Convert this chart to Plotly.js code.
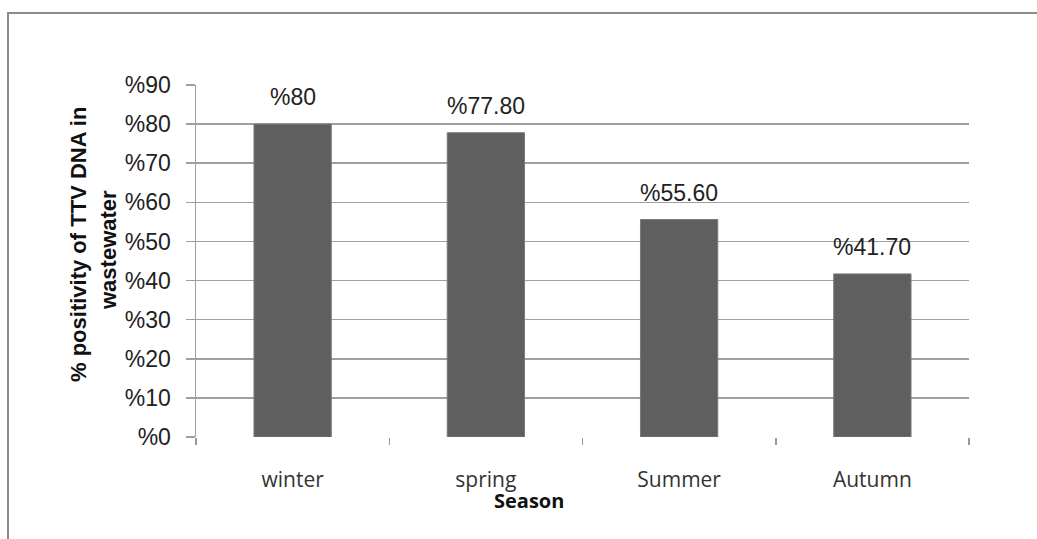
<!DOCTYPE html>
<html>
<head>
<meta charset="utf-8">
<script src="https://cdn.plot.ly/plotly-3.0.1.min.js"></script>
<style>
  html, body { margin: 0; padding: 0; background: #fff; }
  #chart { width: 1037px; height: 539px; }
</style>
</head>
<body>
<div id="chart"></div>
<script>
const seasons = ["winter", "spring", "Summer", "Autumn"];
const positivity = [80, 77.8, 55.6, 41.7];
const valueLabels = ["%80", "%77.80", "%55.60", "%41.70"];
const yTickValues = [0, 10, 20, 30, 40, 50, 60, 70, 80, 90];
const yTickLabels = ["%0", "%10", "%20", "%30", "%40", "%50", "%60", "%70", "%80", "%90"];
const yTitleLines = ["% positivity of TTV DNA in", "wastewater"];
const xTitle = "Season";

const trace = {
  type: "bar",
  x: seasons,
  y: positivity,
  marker: { color: "#5f5f5f", line: { color: "#7a7a7a", width: 1 } },
  hoverinfo: "x+y"
};

const annotations = seasons.map((s, i) => ({
  x: s, y: positivity[i], xref: "x", yref: "y",
  text: valueLabels[i], showarrow: false,
  yanchor: "bottom", yshift: 12,
  font: { family: "Liberation Sans, Arial, sans-serif", size: 23, color: "#222" }
}));

// y-axis title, two rotated lines
annotations.push({
  xref: "paper", yref: "paper", x: (78 - 196) / 773, y: (437 - 245) / 352,
  text: "<b>" + yTitleLines[0] + "</b>", showarrow: false, textangle: -90,
  xanchor: "center", yanchor: "middle",
  font: { family: "Liberation Sans, Arial, sans-serif", size: 22, color: "#111" }
});
annotations.push({
  xref: "paper", yref: "paper", x: (108 - 196) / 773, y: (437 - 250) / 352,
  text: "<b>" + yTitleLines[1] + "</b>", showarrow: false, textangle: -90,
  xanchor: "center", yanchor: "middle",
  font: { family: "Liberation Sans, Arial, sans-serif", size: 22, color: "#111" }
});

annotations.push({
  xref: "paper", yref: "paper", x: (529 - 196) / 773, y: (437 - 500) / 352,
  text: "<b>" + xTitle + "</b>", showarrow: false, xanchor: "center", yanchor: "middle",
  font: { family: "Open Sans, sans-serif", size: 20, color: "#111" }
});

const layout = {
  width: 1037, height: 539,
  margin: { l: 196, r: 68, t: 85, b: 102 },
  paper_bgcolor: "#fff", plot_bgcolor: "#fff",
  showlegend: false,
  bargap: 0.6,
  xaxis: {
    type: "category",
    tickson: "boundaries",
    ticks: "outside", ticklen: 7, tickcolor: "#999", tickwidth: 1.5,
    showgrid: false, showline: false, zeroline: false,
    ticklabelstandoff: 28,
    tickfont: { family: "Open Sans, sans-serif", size: 21, color: "#333" }
  },
  yaxis: {
    range: [0, 90],
    tickvals: yTickValues, ticktext: yTickLabels,
    ticks: "outside", ticklen: 9, tickcolor: "#a0a0a0", tickwidth: 1.5,
    showgrid: true, gridcolor: "#a0a0a0", gridwidth: 1.5,
    showline: true, linecolor: "#a0a0a0", linewidth: 1.5,
    zeroline: false,
    ticklabelstandoff: 10,
    tickfont: { family: "Liberation Sans, Arial, sans-serif", size: 23, color: "#222" }
  },
  annotations: annotations,
  shapes: [{
    type: "rect", xref: "paper", yref: "paper",
    x0: (8 - 196) / 773, x1: (1045 - 196) / 773,
    y0: (437 - 560) / 352, y1: (437 - 13) / 352,
    line: { color: "#8c8c8c", width: 2 }, fillcolor: "rgba(0,0,0,0)"
  }]
};

Plotly.newPlot("chart", [trace], layout, { displayModeBar: false, staticPlot: true });
</script>
</body>
</html>
